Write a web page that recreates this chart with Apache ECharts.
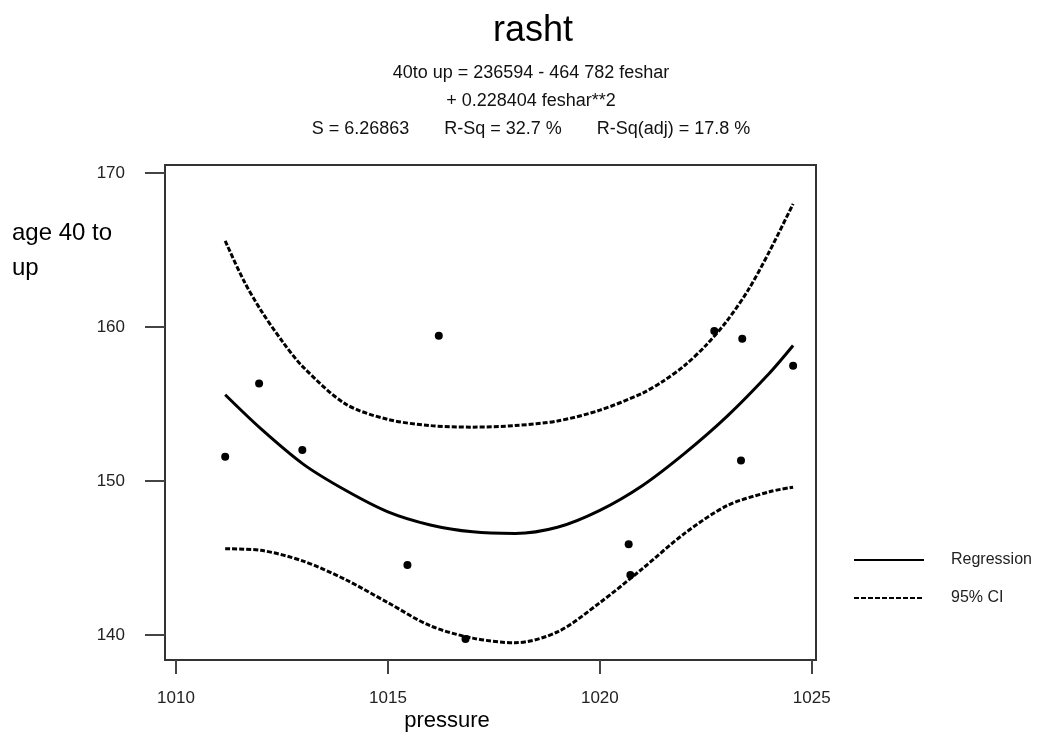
<!DOCTYPE html>
<html lang="en">
<head>
    <meta charset="UTF-8">
    <title>rasht</title>
    <style>
        html, body { margin: 0; padding: 0; background: #fff; }
        #main { width: 1041px; height: 735px; }
    </style>
</head>

<body>
<div id="main"></div>
<script src="https://cdn.jsdelivr.net/npm/echarts@6/dist/echarts.min.js"></script>
<script type="text/javascript">
    // observed points (pressure, age 40 to up)
    var pointX = [1011.16, 1011.96, 1012.98, 1015.46, 1016.2, 1016.83, 1020.68, 1020.72, 1022.70, 1023.33, 1023.36, 1024.56];
    var pointY = [151.58, 156.34, 152.01, 144.55, 159.44, 139.74, 145.89, 143.90, 159.74, 151.34, 159.24, 157.49];

    // fitted curve
    var fitX = [1011.16, 1012, 1013, 1014, 1015, 1016, 1017, 1018, 1019, 1020, 1021, 1022, 1023, 1024, 1024.56];
    var fitY = [155.6, 153.4, 151.1, 149.4, 148.0, 147.15, 146.7, 146.6, 147.0, 148.1, 149.7, 151.8, 154.2, 157.0, 158.8];

    // 95% CI bands
    var upX = [1011.16, 1011.6, 1012, 1012.5, 1013, 1014, 1015, 1016, 1017, 1018, 1019, 1020, 1021, 1021.5, 1022, 1022.5, 1023, 1023.5, 1024, 1024.56];
    var upY = [165.6, 163.0, 161.1, 159.1, 157.4, 155.0, 154.0, 153.6, 153.5, 153.6, 153.9, 154.6, 155.7, 156.5, 157.5, 158.8, 160.4, 162.4, 164.9, 168.0];
    var loX = [1011.16, 1012, 1013, 1014, 1015, 1016, 1017, 1018, 1019, 1020, 1021, 1022, 1023, 1024, 1024.56];
    var loY = [145.6, 145.5, 144.8, 143.6, 142.1, 140.6, 139.8, 139.5, 140.2, 142.1, 144.3, 146.6, 148.4, 149.3, 149.6];

    var xTicks = [1010, 1015, 1020, 1025];
    var yTicks = [140, 150, 160, 170];

    function pairs(xs, ys) {
        return xs.map(function (x, i) { return [x, ys[i]]; });
    }

    var font = 'Liberation Sans, Arial, sans-serif';
    var chart = echarts.init(document.getElementById('main'));

    var option = {
        backgroundColor: '#fff',
        animation: false,
        grid: {
            left: 165, right: 225, top: 165, bottom: 75,
            show: true, borderColor: '#333', borderWidth: 2
        },
        xAxis: {
            type: 'value', min: 1009.74, max: 1025.1,
            axisLine: { show: false },
            splitLine: { show: false },
            axisTick: { show: true, length: 14, customValues: xTicks, lineStyle: { color: '#444', width: 2 } },
            axisLabel: {
                customValues: xTicks, margin: 30, color: '#222', fontSize: 17, fontFamily: font,
                formatter: function (v) { return String(v); }
            }
        },
        yAxis: {
            type: 'value', min: 138.38, max: 170.52,
            axisLine: { show: false },
            splitLine: { show: false },
            axisTick: { show: true, length: 20, customValues: yTicks, lineStyle: { color: '#444', width: 2 } },
            axisLabel: { customValues: yTicks, margin: 40, color: '#222', fontSize: 17, fontFamily: font }
        },
        legend: {
            data: ['Regression', '95% CI'],
            orient: 'vertical',
            left: 848, top: 547,
            itemWidth: 70, itemHeight: 14, itemGap: 22,
            itemStyle: { opacity: 0 },
            textStyle: { fontSize: 16, color: '#222', fontFamily: font, padding: [0, 0, 10, 22] }
        },
        graphic: [
            { type: 'text', x: 533, y: 31, style: { text: 'rasht', align: 'center', verticalAlign: 'middle', font: '36px ' + font, fill: '#000' } },
            { type: 'text', x: 531, y: 73, style: { text: '40to up = 236594 - 464 782 feshar', align: 'center', verticalAlign: 'middle', font: '18px ' + font, fill: '#111' } },
            { type: 'text', x: 531, y: 101, style: { text: '+ 0.228404 feshar**2', align: 'center', verticalAlign: 'middle', font: '18px ' + font, fill: '#111' } },
            { type: 'text', x: 531, y: 129, style: { text: 'S = 6.26863       R-Sq = 32.7 %       R-Sq(adj) = 17.8 %', align: 'center', verticalAlign: 'middle', font: '18px ' + font, fill: '#111' } },
            { type: 'text', x: 12, y: 233, style: { text: 'age 40 to', align: 'left', verticalAlign: 'middle', font: '24px ' + font, fill: '#000' } },
            { type: 'text', x: 12, y: 268, style: { text: 'up', align: 'left', verticalAlign: 'middle', font: '24px ' + font, fill: '#000' } },
            { type: 'text', x: 447, y: 721, style: { text: 'pressure', align: 'center', verticalAlign: 'middle', font: '22px ' + font, fill: '#000' } }
        ],
        series: [
            {
                name: 'points', type: 'scatter', data: pairs(pointX, pointY),
                symbol: 'circle', symbolSize: 8, itemStyle: { color: '#000', opacity: 1 }
            },
            {
                name: 'Regression', type: 'line', data: pairs(fitX, fitY),
                symbol: 'none', smooth: 0.3,
                itemStyle: { color: '#000' },
                lineStyle: { color: '#000', width: 3 }
            },
            {
                name: '95% CI', type: 'line', data: pairs(upX, upY),
                symbol: 'none', smooth: 0.3,
                itemStyle: { color: '#000' },
                lineStyle: { color: '#000', width: 3, type: [5, 2] }
            },
            {
                name: '95% CI', type: 'line', data: pairs(loX, loY),
                symbol: 'none', smooth: 0.3,
                itemStyle: { color: '#000' },
                lineStyle: { color: '#000', width: 3, type: [5, 2] }
            }
        ]
    };

    option && chart.setOption(option);
</script>
</body>
</html>
